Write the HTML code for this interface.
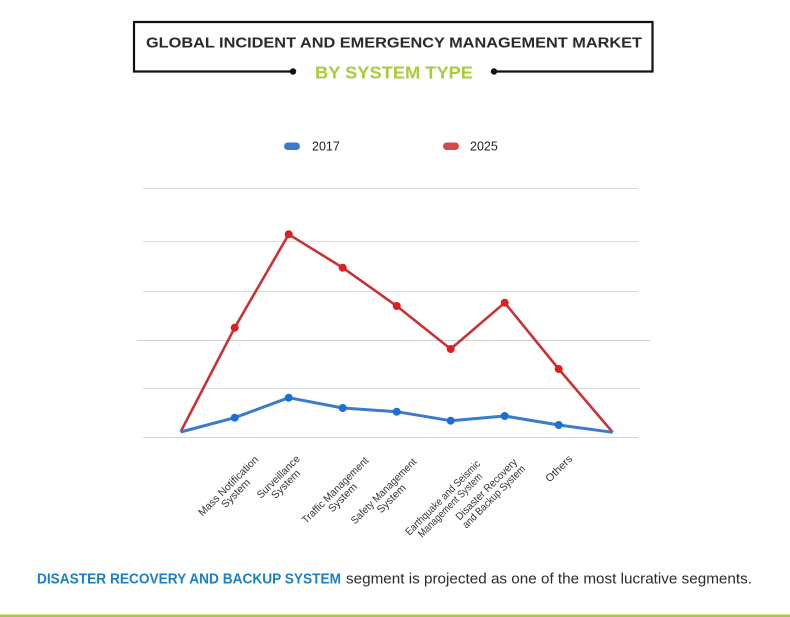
<!DOCTYPE html>
<html>
<head>
<meta charset="utf-8">
<style>
  html, body { margin: 0; padding: 0; background: #ffffff; }
  body { width: 790px; height: 617px; overflow: hidden; }
  svg { display: block; }
</style>
</head>
<body>
<svg width="790" height="617" viewBox="0 0 790 617" xmlns="http://www.w3.org/2000/svg" font-family="Liberation Sans, sans-serif">
  <!-- Title box -->
  <rect x="0" y="0" width="790" height="617" fill="#ffffff"/>
  <path d="M293 71.5 H134 V22 H652.5 V71.5 H494" fill="none" stroke="#111" stroke-width="2.2"/>
  <circle cx="293" cy="71.5" r="3.2" fill="#111"/>
  <circle cx="494" cy="71.5" r="3.2" fill="#111"/>
  <text x="146" y="47.5" font-size="14.6" font-weight="bold" fill="#2a2a2a" textLength="496" lengthAdjust="spacingAndGlyphs">GLOBAL INCIDENT AND EMERGENCY MANAGEMENT MARKET</text>
  <text x="315" y="78.3" font-size="17.5" font-weight="bold" fill="#a8cb38" textLength="158" lengthAdjust="spacingAndGlyphs">BY SYSTEM TYPE</text>

  <!-- Legend -->
  <rect x="284" y="142.5" width="16" height="7.5" rx="3.7" fill="#3f78c4"/>
  <text x="312" y="150.5" font-size="12.5" fill="#222">2017</text>
  <rect x="443" y="142.5" width="16" height="7.5" rx="3.7" fill="#d24a4a"/>
  <text x="470" y="150.5" font-size="12.5" fill="#222">2025</text>

  <!-- Gridlines -->
  <g stroke="#dcdcdc" stroke-width="1">
    <line x1="143" y1="188.5" x2="638" y2="188.5"/>
    <line x1="143" y1="241.5" x2="638" y2="241.5"/>
    <line x1="143" y1="291.5" x2="638" y2="291.5"/>
    <line x1="137" y1="340.5" x2="650" y2="340.5" stroke="#cfcfcf"/>
    <line x1="143" y1="388.5" x2="640" y2="388.5"/>
    <line x1="143" y1="437.5" x2="638" y2="437.5" stroke="#d2d2d2"/>
  </g>

  <!-- 2025 series -->
  <polyline fill="none" stroke="#c93232" stroke-width="2.6" stroke-linejoin="round"
    points="180.7,431.7 234.7,327.7 288.7,234.3 342.7,267.7 396.7,306 450.7,349 504.7,302.7 558.7,369 612.7,432.3"/>
  <g fill="#dc1f1f">
    <circle cx="234.7" cy="327.7" r="4"/>
    <circle cx="288.7" cy="234.3" r="4"/>
    <circle cx="342.7" cy="267.7" r="4"/>
    <circle cx="396.7" cy="306" r="4"/>
    <circle cx="450.7" cy="349" r="4"/>
    <circle cx="504.7" cy="302.7" r="4"/>
    <circle cx="558.7" cy="369" r="4"/>
  </g>

  <!-- 2017 series -->
  <polyline fill="none" stroke="#3c7bc9" stroke-width="3" stroke-linejoin="round"
    points="180.7,432 234.7,417.7 288.7,397.7 342.7,408 396.7,411.7 450.7,420.7 504.7,416 558.7,425 612.7,432.3"/>
  <g fill="#1c6fd6">
    <circle cx="234.7" cy="417.7" r="4"/>
    <circle cx="288.7" cy="397.7" r="4"/>
    <circle cx="342.7" cy="408" r="4"/>
    <circle cx="396.7" cy="411.7" r="4"/>
    <circle cx="450.7" cy="420.7" r="4"/>
    <circle cx="504.7" cy="416" r="4"/>
    <circle cx="558.7" cy="425" r="4"/>
  </g>

  <!-- X-axis labels (slanted) -->
  <g font-size="10.5" fill="#333" text-anchor="middle">
    <text transform="translate(228.2,485.8) rotate(-45)" y="3.6" textLength="80" lengthAdjust="spacingAndGlyphs">Mass Notification</text>
    <text transform="translate(235.6,493.2) rotate(-45)" y="3.6" textLength="36" lengthAdjust="spacingAndGlyphs">System</text>

    <text transform="translate(278.2,476.7) rotate(-45)" y="3.6" textLength="56" lengthAdjust="spacingAndGlyphs">Surveillance</text>
    <text transform="translate(285.6,484.1) rotate(-45)" y="3.6" textLength="36" lengthAdjust="spacingAndGlyphs">System</text>

    <text transform="translate(335.1,490.1) rotate(-45)" y="3.6" textLength="89" lengthAdjust="spacingAndGlyphs">Traffic Management</text>
    <text transform="translate(342.5,497.5) rotate(-45)" y="3.6" textLength="36" lengthAdjust="spacingAndGlyphs">System</text>

    <text transform="translate(383.5,491) rotate(-45)" y="3.6" textLength="88" lengthAdjust="spacingAndGlyphs">Safety Management</text>
    <text transform="translate(391.2,498.5) rotate(-45)" y="3.6" textLength="36" lengthAdjust="spacingAndGlyphs">System</text>

    <text transform="translate(442.6,497.6) rotate(-45)" y="3.6" textLength="101" lengthAdjust="spacingAndGlyphs">Earthquake and Seismic</text>
    <text transform="translate(450,505) rotate(-45)" y="3.6" textLength="86" lengthAdjust="spacingAndGlyphs">Management System</text>

    <text transform="translate(486.2,489.2) rotate(-45)" y="3.6" textLength="82" lengthAdjust="spacingAndGlyphs">Disaster Recovery</text>
    <text transform="translate(493.6,496.6) rotate(-45)" y="3.6" textLength="84" lengthAdjust="spacingAndGlyphs">and Backup System</text>

    <text transform="translate(558.8,468.5) rotate(-45)" y="3.6" textLength="33" lengthAdjust="spacingAndGlyphs">Others</text>
  </g>

  <!-- Bottom statement -->
  <text x="37" y="583.3" font-size="14.5" font-weight="bold" fill="#1a7fc3" textLength="304" lengthAdjust="spacingAndGlyphs">DISASTER RECOVERY AND BACKUP SYSTEM</text>
  <text x="346" y="583.3" font-size="14.5" fill="#2a2a2a" textLength="406" lengthAdjust="spacingAndGlyphs">segment is projected as one of the most lucrative segments.</text>

  <!-- Bottom green rule -->
  <rect x="0" y="614.5" width="790" height="2.5" fill="#a8c83c"/>
</svg>
</body>
</html>
